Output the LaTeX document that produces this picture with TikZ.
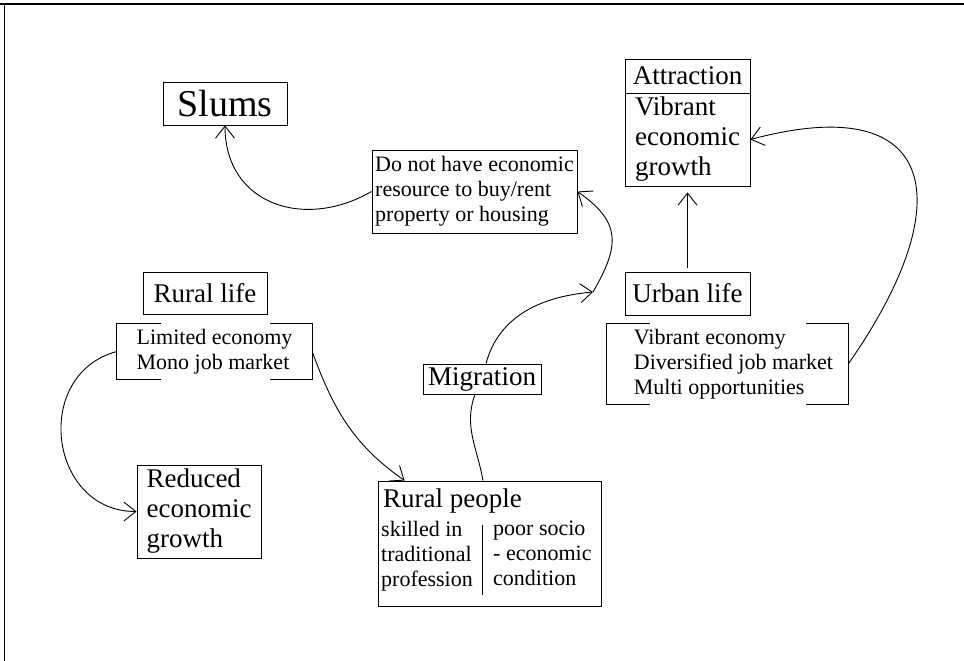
\documentclass[tikz,border=0pt]{standalone}
\usepackage{fontspec}
\setmainfont{Liberation Serif}
\usetikzlibrary{arrows.meta}
\tikzset{
  box/.style={draw, line width=0.9pt, inner sep=2pt},
  bigtxt/.style={font=\fontsize{27}{30}\selectfont},
  smalltxt/.style={font=\fontsize{22}{25}\selectfont},
  bracket/.style={line width=1.2pt},
  flow/.style={-{Straight Barb[length=12pt,width=19pt]}, line width=0.9pt}
}
% open brackets left and right of a node: name, left tick, right tick
\newcommand{\sidebrackets}[3]{%
  \draw[bracket] ([xshift=#2]#1.north west) -- (#1.north west) -- (#1.south west) -- ([xshift=#2]#1.south west);
  \draw[bracket] ([xshift=-#3]#1.north east) -- (#1.north east) -- (#1.south east) -- ([xshift=-#3]#1.south east);}

\begin{document}
\begin{tikzpicture}[x=1pt,y=1pt]
  \useasboundingbox (0,0) rectangle (964,-661);
  \draw[line width=1.4pt] (0,-4) -- (964,-4);
  \draw[line width=1pt] (4,-4) -- (4,-661);

  \node[box, minimum width=124pt, minimum height=43pt, font=\fontsize{38}{42}\selectfont] (slums) at (225,-103.5) {Slums};
  \node[box, smalltxt, align=left, minimum width=205pt, minimum height=83pt] (noeco) at (474.5,-191.5) {Do not have economic\\resource to buy/rent\\property or housing};

  \node[box, bigtxt, minimum width=125pt, minimum height=34pt] (attrhead) at (687.5,-76) {Attraction};
  \node[box, bigtxt, align=left, minimum width=125pt, minimum height=93pt] (attrbody) at (687.5,-139.5) {Vibrant\\economic\\growth};

  \node[box, bigtxt, minimum width=124pt, minimum height=42pt] (rural) at (205,-293) {Rural life};
  \node[smalltxt, align=left, minimum width=195pt, minimum height=55pt] (rurallist) at (214.5,-351.5) {Limited economy\\Mono job market};
  \sidebrackets{rurallist}{44pt}{42pt}

  \node[box, bigtxt, minimum width=125pt, minimum height=43pt] (urban) at (687.5,-293.5) {Urban life};
  \node[smalltxt, align=left, minimum width=241pt, minimum height=80pt] (urbanlist) at (727.5,-364) {\hspace*{12pt}Vibrant economy\\\hspace*{12pt}Diversified job market\\\hspace*{12pt}Multi opportunities};
  \sidebrackets{urbanlist}{43pt}{42pt}

  \node[box, bigtxt, align=left, minimum width=124pt, minimum height=93pt] (reduced) at (199,-511.5) {Reduced\\economic\\growth};

  \node[box, bigtxt, minimum width=118pt, minimum height=30pt, inner sep=0pt] (migr) at (482,-379) {Migration};

  \node[box, minimum width=223pt, minimum height=125pt] (people) at (489.5,-543.5) {};
  \node[bigtxt, anchor=north west, inner sep=0pt] (peopletitle) at (383,-489) {Rural people};
  \node[smalltxt, align=left, anchor=north west, inner sep=0pt] (skill) at (381,-521) {skilled in\\traditional\\profession};
  \node[smalltxt, align=left, anchor=north west, inner sep=0pt] (poor) at (493,-521) {poor socio\\- economic\\condition};
  \draw[line width=0.9pt] ([xshift=-7.5pt,yshift=-44pt]people.north) -- ([xshift=-7.5pt,yshift=11pt]people.south);

  \coordinate (migtip) at (593,-292);

  \draw[flow] (noeco.west) to[out=210,in=-90,looseness=1.25] (slums.south);
  \draw[line width=0.9pt] ([xshift=-6.5pt]people.north) to[out=100,in=-110] ([xshift=-7pt]migr.south);
  \draw[flow] ([xshift=4pt]migr.north) to[out=75,in=185] (migtip);
  \draw[flow] (migtip) to[out=60,in=-35,looseness=1.35] (noeco.east);
  \draw[flow] (rurallist.east) to[out=-70,in=145] ([xshift=27pt]people.north west);
  \draw[flow] (rurallist.west) to[out=195,in=180,looseness=1.4] (reduced.west);
  \draw[flow, shorten <=4pt, shorten >=6pt] (urban) -- (attrbody);
  \draw[flow] (urbanlist.east) to[out=55,in=15,looseness=2.05] (attrbody.east);
\end{tikzpicture}
\end{document}
